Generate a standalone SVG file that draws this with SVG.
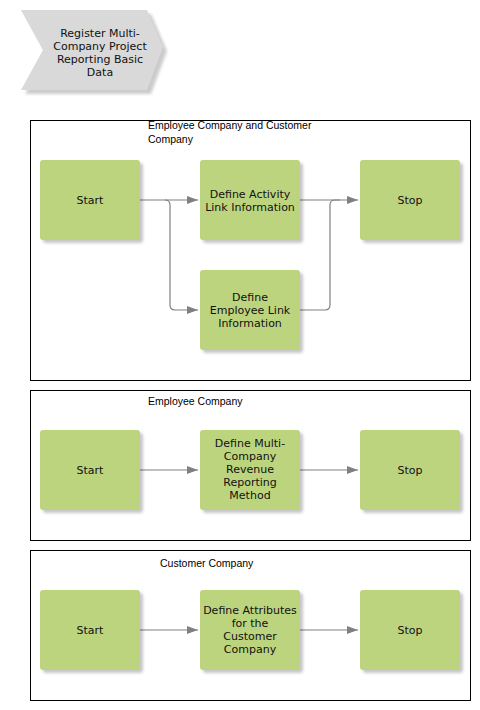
<svg xmlns="http://www.w3.org/2000/svg" width="480" height="710" viewBox="0 0 480 710">
<style>
.lane{fill:none;stroke:#000;stroke-width:1}
.node{fill:#bdd47e}
.shadow{fill:#000;opacity:0.22;filter:url(#blur)}
.nt{font-family:"DejaVu Sans",Verdana,sans-serif;font-size:11px;fill:#111;text-anchor:middle}
.lt{font-family:"Liberation Sans",Arial,sans-serif;font-size:10.5px;fill:#000}
.conn{fill:none;stroke:#808080;stroke-width:1.2}
</style>
<defs>
<filter id="blur" x="-20%" y="-20%" width="140%" height="140%"><feGaussianBlur stdDeviation="1.5"/></filter>
<marker id="arr" markerWidth="12" markerHeight="10" refX="11" refY="4" orient="auto" markerUnits="userSpaceOnUse">
<path d="M0,0 L11,4 L0,8 Z" fill="#808080"/>
</marker>
</defs>
<rect width="480" height="710" fill="#fff"/>

<g id="header">
<polygon points="25,14 151,14 167,51 151,94 25,94 47,54" fill="#000" opacity="0.2" filter="url(#blur)"/>
<polygon points="21,10 147,10 163,47 147,90 21,90 43,50" fill="#d9d9d9"/>
<text class="nt" x="100" y="37">Register Multi-</text>
<text class="nt" x="100" y="50">Company Project</text>
<text class="nt" x="100" y="63">Reporting Basic</text>
<text class="nt" x="100" y="76">Data</text>
</g>

<g id="lane1">
<rect class="lane" x="30.5" y="120.5" width="440" height="260"/>
<text class="lt" x="148" y="129">Employee Company and Customer</text>
<text class="lt" x="148" y="143">Company</text>
</g>
<g id="lane2">
<rect class="lane" x="30.5" y="390.5" width="440" height="150"/>
<text class="lt" x="148" y="405">Employee Company</text>
</g>
<g id="lane3">
<rect class="lane" x="30.5" y="550.5" width="440" height="150"/>
<text class="lt" x="160" y="567">Customer Company</text>
</g>

<g id="connectors">
<path class="conn" d="M140,200 L198,200" marker-end="url(#arr)"/>
<path class="conn" d="M165,200 Q170,200 170,205 L170,305 Q170,310 175,310 L198,310" marker-end="url(#arr)"/>
<path class="conn" d="M300,200 L358,200" marker-end="url(#arr)"/>
<path class="conn" d="M300,310 L325,310 Q330,310 330,305 L330,205 Q330,200 335,200 L340,200"/>
<path class="conn" d="M140,470 L198,470" marker-end="url(#arr)"/>
<path class="conn" d="M300,470 L358,470" marker-end="url(#arr)"/>
<path class="conn" d="M140,630 L198,630" marker-end="url(#arr)"/>
<path class="conn" d="M300,630 L358,630" marker-end="url(#arr)"/>
</g>

<g id="start1"><rect class="shadow" x="43" y="163" width="100" height="80" rx="3"/><rect class="node" x="40" y="160" width="100" height="80" rx="3"/><text class="nt" x="90" y="204">Start</text></g>
<g id="activity1"><rect class="shadow" x="203" y="163" width="100" height="80" rx="3"/><rect class="node" x="200" y="160" width="100" height="80" rx="3"/><text class="nt" x="250" y="198">Define Activity</text><text class="nt" x="250" y="211">Link Information</text></g>
<g id="stop1"><rect class="shadow" x="363" y="163" width="100" height="80" rx="3"/><rect class="node" x="360" y="160" width="100" height="80" rx="3"/><text class="nt" x="410" y="204">Stop</text></g>
<g id="employee1"><rect class="shadow" x="203" y="273" width="100" height="80" rx="3"/><rect class="node" x="200" y="270" width="100" height="80" rx="3"/><text class="nt" x="250" y="301">Define</text><text class="nt" x="250" y="314">Employee Link</text><text class="nt" x="250" y="327">Information</text></g>

<g id="start2"><rect class="shadow" x="43" y="433" width="100" height="80" rx="3"/><rect class="node" x="40" y="430" width="100" height="80" rx="3"/><text class="nt" x="90" y="474">Start</text></g>
<g id="revenue2"><rect class="shadow" x="203" y="433" width="100" height="80" rx="3"/><rect class="node" x="200" y="430" width="100" height="80" rx="3"/><text class="nt" x="250" y="447">Define Multi-</text><text class="nt" x="250" y="460">Company</text><text class="nt" x="250" y="473">Revenue</text><text class="nt" x="250" y="486">Reporting</text><text class="nt" x="250" y="499">Method</text></g>
<g id="stop2"><rect class="shadow" x="363" y="433" width="100" height="80" rx="3"/><rect class="node" x="360" y="430" width="100" height="80" rx="3"/><text class="nt" x="410" y="474">Stop</text></g>

<g id="start3"><rect class="shadow" x="43" y="593" width="100" height="80" rx="3"/><rect class="node" x="40" y="590" width="100" height="80" rx="3"/><text class="nt" x="90" y="634">Start</text></g>
<g id="attributes3"><rect class="shadow" x="203" y="593" width="100" height="80" rx="3"/><rect class="node" x="200" y="590" width="100" height="80" rx="3"/><text class="nt" x="250" y="614">Define Attributes</text><text class="nt" x="250" y="627">for the</text><text class="nt" x="250" y="640">Customer</text><text class="nt" x="250" y="653">Company</text></g>
<g id="stop3"><rect class="shadow" x="363" y="593" width="100" height="80" rx="3"/><rect class="node" x="360" y="590" width="100" height="80" rx="3"/><text class="nt" x="410" y="634">Stop</text></g>
</svg>
